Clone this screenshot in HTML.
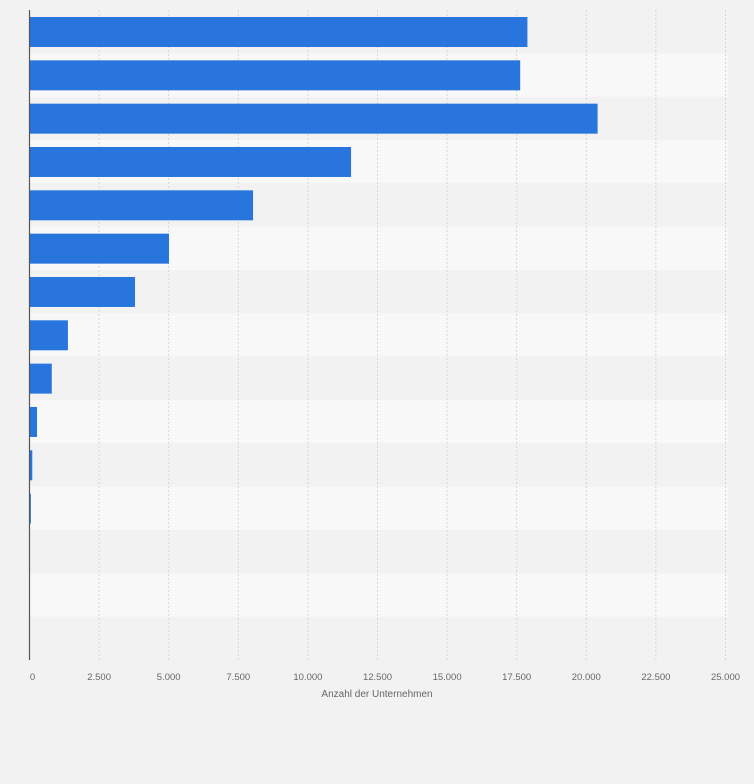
<!DOCTYPE html>
<html><head><meta charset="utf-8"><style>
body{margin:0;background:#f2f2f2;font-family:"Liberation Sans",sans-serif}
</style></head><body>
<svg width="754" height="779" xmlns="http://www.w3.org/2000/svg">
<rect width="754" height="779" fill="#f2f2f2"/>
<g id="bands"></g><g id="grid"></g><g id="bars"></g><g id="ticks"></g>
<line x1="29.5" y1="10" x2="29.5" y2="660" stroke="#555" stroke-width="1.2"/>
<text x="377" y="697" font-size="10" fill="#666" text-anchor="middle">Anzahl der Unternehmen</text>
</svg>
<script>
const categories=["R1","R2","R3","R4","R5","R6","R7","R8","R9","R10","R11","R12","R13","R14","R15"];
const values=[17885,17625,20406,11550,8030,5010,3790,1380,800,270,100,50,0,0,0];
const tickValues=[0,2500,5000,7500,10000,12500,15000,17500,20000,22500,25000];
const tickLabels=["0","2.500","5.000","7.500","10.000","12.500","15.000","17.500","20.000","22.500","25.000"];
const NS="http://www.w3.org/2000/svg";
const x0=29.5,x1=725.5,maxV=25000,plotTop=10,pitch=43.33;
const xs=v=>x0+(v/maxV)*(x1-x0);
function mk(t,a,p){const e=document.createElementNS(NS,t);for(const k in a)e.setAttribute(k,a[k]);p.appendChild(e);return e;}
const bandsG=document.getElementById('bands'),gridG=document.getElementById('grid'),barsG=document.getElementById('bars'),ticksG=document.getElementById('ticks');
categories.forEach((c,i)=>{
 const b=mk('rect',{x:x0,y:plotTop+i*pitch,width:728-x0,height:pitch,fill:i%2?'#f8f8f8':'#f2f2f2'},bandsG);
 
 
});
tickValues.forEach((v,i)=>{
 if(i>0){const l=mk('line',{x1:xs(v),x2:xs(v),y1:plotTop,y2:660,stroke:'#d6d6d6','stroke-dasharray':'2,2'},gridG);
 
 }
 const t=mk('text',{x:xs(v)+(i==0?3:0),y:680,'font-size':'9.5',fill:'#666','text-anchor':'middle'},ticksG);
 t.textContent=tickLabels[i];
 
 
});
values.forEach((v,i)=>{
 if(v<=0)return;
 const r=mk('rect',{x:x0,y:plotTop+i*pitch+7,width:xs(v)-x0,height:30,fill:'#2876dd'},barsG);
 
 
});
</script>
</body></html>
